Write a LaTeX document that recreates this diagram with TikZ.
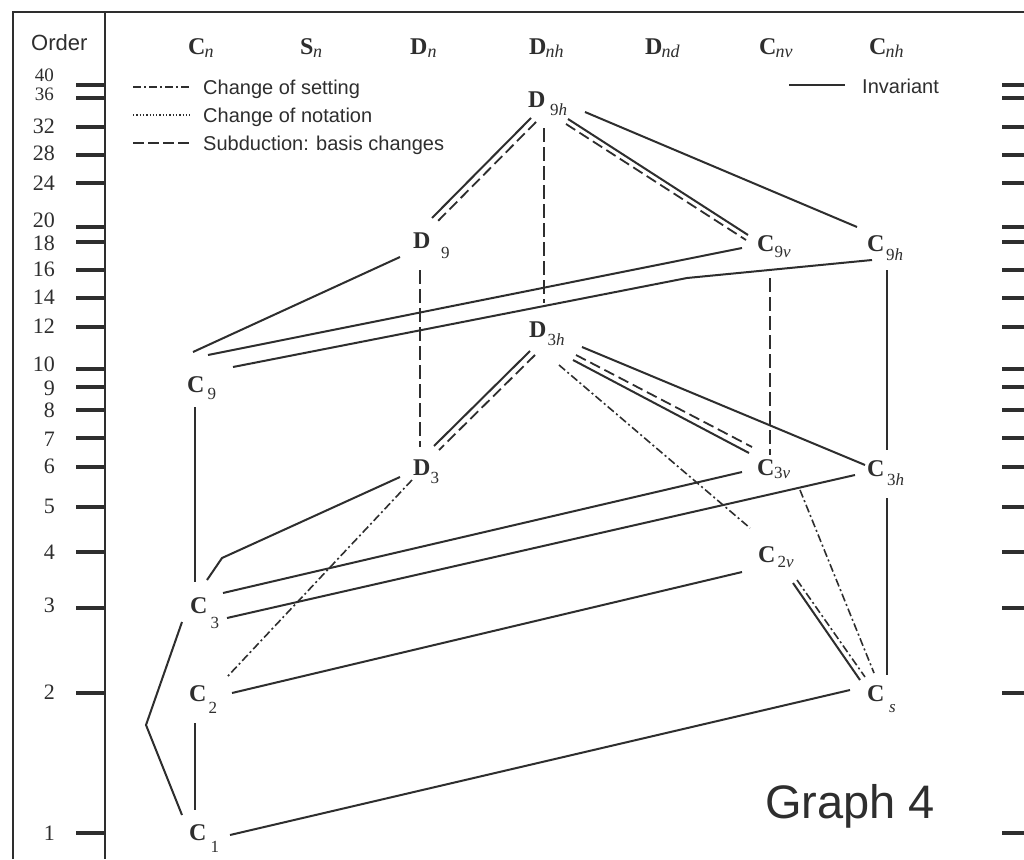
\documentclass[tikz,border=0pt]{standalone}
\usepackage{fontspec}
\setmainfont{Liberation Serif}
\newfontfamily\sansf{Liberation Sans}
\usetikzlibrary{calc}
\definecolor{ink}{HTML}{2E2E2E}
\newcommand{\grplab}[4]{\textbf{#1}\kern#2pt\raisebox{-#3pt}{\fontsize{17}{17}\selectfont #4}}
\newcommand{\hdr}[3]{\textbf{#1}\kern#2pt\raisebox{-3pt}{\fontsize{18}{18}\selectfont\itshape #3}}
\begin{document}
\begin{tikzpicture}[x=1pt,y=-1pt,
 lab/.style={anchor=base west,inner sep=0pt,font=\fontsize{24}{24}\selectfont,text=ink},
 inv/.style={draw=ink,line width=2pt},
 subd/.style={draw=ink,line width=1.8pt,dash pattern=on 11pt off 5pt},
 sett/.style={draw=ink,line width=1.6pt,dash pattern=on 8pt off 3pt on 2pt off 3pt},
 nota/.style={draw=ink,line width=1.5pt,dash pattern=on 1.3pt off 2pt},
 frame/.style={draw=ink,line width=2pt},
 tickmark/.style={draw=ink,line width=4.5pt},
 num/.style={anchor=east,inner sep=0pt,font=\fontsize{22}{22}\selectfont,text=ink},
 leg/.style={anchor=base west,inner sep=0pt,font=\sansf\fontsize{20}{20}\selectfont,text=ink}]
\fill[white] (0,0) rectangle (1024,859);
\useasboundingbox (0,0) rectangle (1024,859);

% frame
\draw[frame] (13,859) -- (13,12) -- (1024,12);
\draw[frame] (105,12) -- (105,859);

% order axis
\node[leg,font=\sansf\fontsize{22}{22}\selectfont] (order) at (31,50) {Order};
\foreach \y in {85,98,127,155,183,227,242,270,298,327,369,387,410,438,467,507,552,608,693,833}{
  \draw[tickmark] (76,\y) -- (105,\y);
  \draw[tickmark] (1002,\y) -- (1024,\y);
}
\node[num,font=\fontsize{19}{19}\selectfont] (o40) at (54,75) {40};
\node[num,font=\fontsize{19}{19}\selectfont] (o36) at (54,94) {36};
\foreach \t/\y in {32/126,28/153,24/183,20/220,18/243,16/269,14/297,12/326,10/364,9/388,8/410,7/439,6/466,5/506,4/552,3/605,2/692,1/833}{
  \node[num] (o\t) at (55,\y) {\t};
}

% column headers
\node[lab] (hCn)  at (188,55) {\hdr{C}{-1}{n}};
\node[lab] (hSn)  at (300,55) {\hdr{S}{-0.5}{n}};
\node[lab] (hDn)  at (410,55) {\hdr{D}{0}{n}};
\node[lab] (hDnh) at (529,55) {\hdr{D}{-1}{nh}};
\node[lab] (hDnd) at (645,55) {\hdr{D}{-1}{nd}};
\node[lab] (hCnv) at (759,55) {\hdr{C}{-1}{nv}};
\node[lab] (hCnh) at (869,55) {\hdr{C}{-1}{nh}};

% legend
\coordinate (la1) at (133,87);  \coordinate (lb1) at (190,87);
\coordinate (la2) at (133,115); \coordinate (lb2) at (190,115);
\coordinate (la3) at (133,143); \coordinate (lb3) at (190,143);
\coordinate (la4) at (789,85);  \coordinate (lb4) at (845,85);
\draw[sett] (la1) -- (lb1);
\draw[nota] (la2) -- (lb2);
\draw[subd,dash pattern=on 11pt off 4pt] (la3) -- (lb3);
\draw[inv] (la4) -- (lb4);
\node[leg] (l1) at (203,94) {Change of setting};
\node[leg] (l2) at (203,122) {Change of notation};
\node[leg] (l3) at (203,150) {Subduction: basis changes};
\node[leg] (l4) at (862,93) {Invariant};

% groups
\node[lab] (D9h) at (528,107) {\grplab{D}{4.5}{8}{9\textit{h}}};
\node[lab] (D9)  at (413,248) {\grplab{D}{10.5}{10}{9}};
\node[lab] (C9v) at (757,251) {\grplab{C}{0}{6}{9\textit{v}}};
\node[lab] (C9h) at (867,251) {\grplab{C}{1.5}{9}{9\textit{h}}};
\node[lab] (D3h) at (529,337) {\grplab{D}{1}{8}{3\textit{h}}};
\node[lab] (C9)  at (187,392) {\grplab{C}{3}{7}{9}};
\node[lab] (D3)  at (413,475) {\grplab{D}{0}{8}{3}};
\node[lab] (C3v) at (757,475) {\grplab{C}{-0.5}{3}{3\textit{v}}};
\node[lab] (C3h) at (867,476) {\grplab{C}{2.5}{9}{3\textit{h}}};
\node[lab] (C2v) at (758,562) {\grplab{C}{2}{5}{2\textit{v}}};
\node[lab] (C3)  at (190,613) {\grplab{C}{3}{15}{3}};
\node[lab] (C2)  at (189,701) {\grplab{C}{2}{12}{2}};
\node[lab] (Cs)  at (867,701) {\grplab{C}{4.5}{11}{\textit{s}}};
\node[lab] (C1)  at (189,840) {\grplab{C}{4}{12}{1}};

\coordinate (k1) at (687,278);
\coordinate (k2) at (222,558);
\coordinate (k3) at (146,725);

% invariant connectors
\draw[inv] ($(D9h.base west)+(57,5)$) -- ($(C9h.base west)+(-10,-24)$);
\draw[inv] ($(D9.base west)+(-13,9)$) -- ($(C9.base west)+(6,-40)$);
\draw[inv] ($(C9v.base west)+(-15,-3)$) -- ($(C9.base west)+(21,-37)$);
\draw[inv] ($(C9h.base west)+(5,9)$) -- (k1) -- ($(C9.base west)+(46,-25)$);
\draw[inv] ($(C9h.base west)+(20,19)$) -- ($(C3h.base west)+(20,-26)$);
\draw[inv] ($(D3h.base west)+(53,10)$) -- ($(C3h.base west)+(-2,-11)$);
\draw[inv] ($(C3v.base west)+(-15,-3)$) -- ($(C3.base west)+(33,-20)$);
\draw[inv] ($(C3h.base west)+(-12,-1)$) -- ($(C3.base west)+(37,5)$);
\draw[inv] ($(C3h.base west)+(20,22)$) -- ($(Cs.base west)+(20,-26)$);
\draw[inv] ($(C2v.base west)+(-16,10)$) -- ($(C2.base west)+(43,-8)$);
\draw[inv] ($(Cs.base west)+(-17,-11)$) -- ($(C1.base west)+(41,-5)$);
\draw[inv] ($(C2.base west)+(6,22)$) -- ($(C1.base west)+(6,-30)$);
\draw[inv] ($(C3.base west)+(-8,9)$) -- (k3) -- ($(C1.base west)+(-7,-25)$);
\draw[inv] ($(D3.base west)+(-13,2)$) -- (k2) -- ($(C3.base west)+(17,-33)$);
\draw[inv] ($(C9.base west)+(8,15)$) -- ($(C3.base west)+(5,-31)$);

% subduction (dashed)
\draw[subd,dash pattern=on 14pt off 5pt] ($(D9h.base west)+(16,21)$) -- ($(D3h.base west)+(15,-34)$);
\draw[subd,dash pattern=on 14pt off 5pt] ($(D9.base west)+(7,22)$) -- ($(D3.base west)+(7,-28)$);
\draw[subd,dash pattern=on 14pt off 5pt] ($(C9v.base west)+(13,27)$) -- ($(C3v.base west)+(13,-20)$);

% change of setting (dash-dot)
\draw[sett] ($(D3h.base west)+(30,28)$) -- ($(C2v.base west)+(-8,-34)$);
\draw[sett] ($(C3v.base west)+(43,15)$) -- ($(Cs.base west)+(7,-28)$);
\draw[sett] ($(D3.base west)+(-1,5)$) -- ($(C2.base west)+(38,-24)$);

% double connectors
\draw[inv]  ($(D9h.base west)+(3,11)$) -- ($(D9.base west)+(19,-30)$);
\draw[subd] ($(D9h.base west)+(8,15)$) -- ($(D9.base west)+(24,-26)$);
\draw[inv]  ($(D9h.base west)+(40,12)$) -- ($(C9v.base west)+(-9,-16)$);
\draw[subd] ($(D9h.base west)+(38,17)$) -- ($(C9v.base west)+(-11,-11)$);
\draw[inv]  ($(D3h.base west)+(1,14)$) -- ($(D3.base west)+(21,-29)$);
\draw[subd] ($(D3h.base west)+(6,18)$) -- ($(D3.base west)+(26,-25)$);
\draw[subd] ($(D3h.base west)+(47,18)$) -- ($(C3v.base west)+(-5,-28)$);
\draw[inv]  ($(D3h.base west)+(44,23)$) -- ($(C3v.base west)+(-8,-22)$);
\draw[inv]  ($(C2v.base west)+(35,21)$) -- ($(Cs.base west)+(-7,-21)$);
\draw[sett] ($(C2v.base west)+(39,18)$) -- ($(Cs.base west)+(-2,-24)$);

% title
\node[leg,font=\sansf\fontsize{47}{47}\selectfont] (title) at (765,818) {Graph 4};
\end{tikzpicture}
\end{document}
